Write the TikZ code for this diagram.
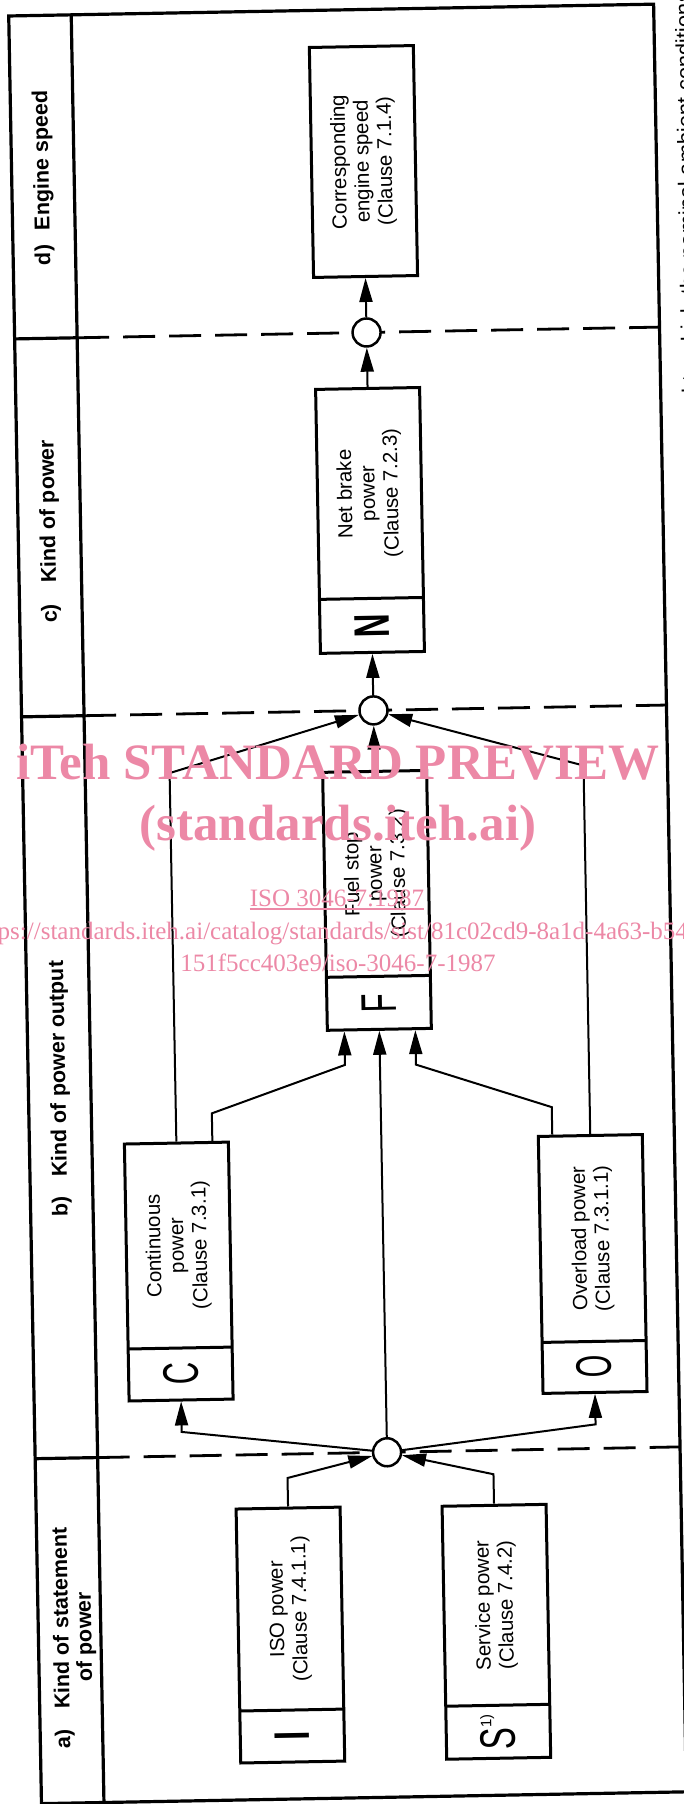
\documentclass[tikz,border=0pt]{standalone}
\usepackage{graphicx}
\usepackage{fontspec}
\setmainfont{Liberation Sans}
\newfontfamily\wmfont{Liberation Serif}
\usetikzlibrary{arrows.meta}
\definecolor{wmpink}{RGB}{236,136,166}
\tikzset{
  frameline/.style={line width=3.2pt},
  boxst/.style={draw, line width=3pt, inner sep=0pt},
  divline/.style={line width=3pt},
  conn/.style={line width=2pt},
  arr/.style={conn, -{Triangle[length=24pt,width=13pt]}},
  sepline/.style={line width=2.8pt, dash pattern=on 32pt off 14pt},
  junc/.style={circle, draw, line width=2.5pt, fill=white, minimum size=28pt, inner sep=0pt},
  boxtxt/.style={rotate=90, align=center, inner sep=0pt, font=\fontsize{20.5}{23}\selectfont},
  lettr/.style={rotate=90, inner sep=0pt, font=\fontsize{50}{50}\selectfont},
  hdr/.style={rotate=90, anchor=base west, inner sep=0pt, font=\fontsize{21.5}{24}\selectfont\bfseries},
  wmtxt/.style={text=wmpink, inner sep=0pt, anchor=base},
}
\newcommand{\powbox}[7]{%
  \node[boxst, minimum width=104pt, minimum height={(#4)-(#3)}] (#1) at (#2,{((#3)+(#4))/2}) {};
  \draw[divline] ({#2-52},#5) -- ({#2+52},#5);
  \node[boxtxt] (#1t) at (#2,{((#3)+(#5))/2}) {#6};
  \node[lettr] (#1l) at (#2,{((#5)+(#4))/2}) {#7};
}
\begin{document}
\begin{tikzpicture}[x=1pt,y=-1pt]
\useasboundingbox (0,0) rectangle (684,1804);
\clip (0,0) rectangle (684,1804);
\begin{scope}[rotate around={1.05:(342,902)}, transform shape]
  % frame and header column
  \draw[frameline] (25,10) rectangle (670,1798);
  \draw[frameline] (87.5,10) -- (87.5,1798);
  \draw[frameline] (25,333) -- (87.5,333);
  \draw[frameline] (25,711) -- (87.5,711);
  \draw[frameline] (25,1453) -- (87.5,1453);
  % dashed separators
  \draw[sepline] (87.5,333) -- (670,333);
  \draw[sepline] (87.5,711) -- (670,711);
  \draw[sepline] (87.5,1453) -- (670,1453);
  % header texts
  \node[hdr] (hd) at (62,260) {d)};
  \node[hdr] (hdt) at (62,225) {Engine speed};
  \node[hdr] (hc) at (62,618) {c)};
  \node[hdr] (hct) at (62,578) {Kind of power};
  \node[hdr] (hb) at (62,1212) {b)};
  \node[hdr] (hbt) at (62,1172) {Kind of power output};
  \node[hdr] (ha) at (55,1744) {a)};
  \node[hdr] (hat) at (55,1704) {Kind of statement};
  \node[hdr] (hat2) at (78,1677) {of power};
  % boxes
  \node[boxst, minimum width=104pt, minimum height=230pt] (E) at (377,162) {};
  \node[boxtxt] (Et) at (377,162) {Corresponding\\engine speed\\(Clause 7.1.4)};
  \powbox{N}{377}{389}{653}{599}{Net brake\\power\\(Clause 7.2.3)}{\bfseries\scalebox{0.66}[1]{N}}
  \powbox{F}{377}{772}{1030}{977}{Fuel stop\\power\\(Clause 7.3.2)}{\scalebox{0.62}[1]{F}}
  \powbox{C}{172}{1140}{1397}{1345}{Continuous\\power\\(Clause 7.3.1)}{\scalebox{0.62}[1]{C}}
  \powbox{O}{586}{1140}{1397}{1346}{Overload power\\(Clause 7.3.1.1)}{\scalebox{0.58}[1]{O}}
  \powbox{I}{277}{1507}{1761}{1709}{ISO power\\(Clause 7.4.1.1)}{I}
  \powbox{S}{483}{1508}{1761}{1708}{Service power\\(Clause 7.4.2)}{\scalebox{0.66}[1]{S}\raisebox{24pt}{\fontsize{15}{15}\selectfont 1)}}
  % junctions
  \node[junc] (c1) at (377,333) {};
  \node[junc] (c2) at (377,711) {};
  \node[junc] (c3) at (377,1453) {};
  % kink points
  \coordinate (kCl) at (172,770);
  \coordinate (kOl) at (586,770);
  \coordinate (sCa) at (208,1111);
  \coordinate (sCb) at (342,1065);
  \coordinate (sOa) at (548,1111);
  \coordinate (sOb) at (413,1066);
  \coordinate (dC) at (172,1429);
  \coordinate (dO) at (586,1429);
  \coordinate (uI) at (277,1477);
  \coordinate (uS) at (483,1477);
  % connectors
  \draw[arr] (c1) -- (E);
  \draw[arr] (N) -- (c1);
  \draw[arr] (c2) -- (N);
  \draw[arr] (F) -- (c2);
  \draw[arr] (C.north) -- (kCl) -- (c2);
  \draw[arr] (O.north) -- (kOl) -- (c2);
  \draw[arr] (C.north -| sCa) -- (sCa) -- (sCb) -- (F.south -| sCb);
  \draw[arr] (O.north -| sOa) -- (sOa) -- (sOb) -- (F.south -| sOb);
  \draw[arr] (c3) -- (F);
  \draw[arr] (c3) -- (dC) -- (C.south);
  \draw[arr] (c3) -- (dO) -- (O.south);
  \draw[arr] (I.north) -- (uI) -- (c3);
  \draw[arr] (S.north) -- (uS) -- (c3);
  % cut-off footnote at the right edge
  \node[rotate=90, anchor=base east, inner sep=0pt, font=\fontsize{22}{24}\selectfont] (fn) at (707,-2) {ed to which the nominal ambient conditions};
\end{scope}
% watermark
\node[wmtxt, font=\wmfont\fontsize{51}{51}\selectfont\bfseries] (w1) at (338,779) {iTeh STANDARD PREVIEW};
\node[wmtxt, font=\wmfont\fontsize{51}{51}\selectfont\bfseries] (w2) at (338,840) {(standards.iteh.ai)};
\node[wmtxt, font=\wmfont\fontsize{25}{25}\selectfont] (w3) at (337,906) {ISO 3046-7:1987};
\draw[wmpink, line width=1.3pt] ([yshift=-3pt]w3.base west) -- ([yshift=-3pt]w3.base east);
\node[wmtxt, font=\wmfont\fontsize{25}{25}\selectfont] (w4) at (340,939) {https://standards.iteh.ai/catalog/standards/sist/81c02cd9-8a1d-4a63-b540-};
\node[wmtxt, font=\wmfont\fontsize{25}{25}\selectfont] (w5) at (338,971) {151f5cc403e9/iso-3046-7-1987};
\end{tikzpicture}
\end{document}
